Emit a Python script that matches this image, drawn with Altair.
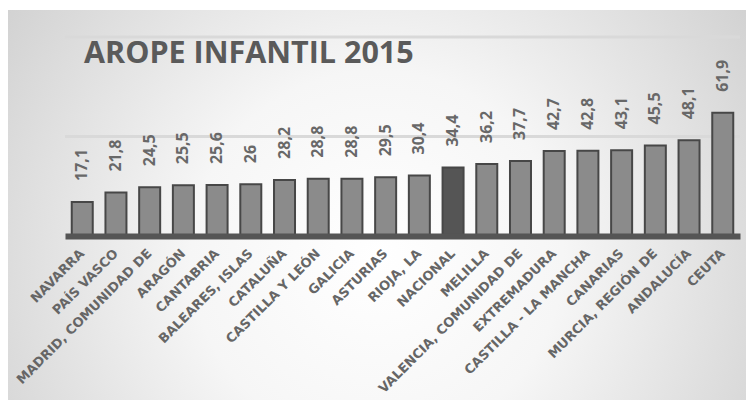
import altair as alt
import pandas as pd

regions = ["NAVARRA", "PAÍS VASCO", "MADRID, COMUNIDAD DE", "ARAGÓN", "CANTABRIA",
           "BALEARES, ISLAS", "CATALUÑA", "CASTILLA Y LEÓN", "GALICIA", "ASTURIAS",
           "RIOJA, LA", "NACIONAL", "MELILLA", "VALENCIA, COMUNIDAD DE", "EXTREMADURA",
           "CASTILLA - LA MANCHA", "CANARIAS", "MURCIA, REGIÓN DE", "ANDALUCÍA", "CEUTA"]
values = [17.1, 21.8, 24.5, 25.5, 25.6, 26.0, 28.2, 28.8, 28.8, 29.5,
          30.4, 34.4, 36.2, 37.7, 42.7, 42.8, 43.1, 45.5, 48.1, 61.9]
value_labels = ["17,1", "21,8", "24,5", "25,5", "25,6", "26", "28,2", "28,8", "28,8", "29,5",
                "30,4", "34,4", "36,2", "37,7", "42,7", "42,8", "43,1", "45,5", "48,1", "61,9"]
grid_values = [50, 100]
highlight = "NACIONAL"
title_text = "AROPE INFANTIL 2015"

df = pd.DataFrame({"region": regions, "value": values, "label": value_labels})
df["grupo"] = ["nacional" if r == highlight else "region" for r in regions]

W, H = 675, 199
PAD_L, PAD_T = 57, 29
TOTAL_W, TOTAL_H = 738, 392

grad = alt.RadialGradient(
    gradient="radial",
    x1=0.5, y1=0.57, r1=0.0,
    x2=0.5, y2=0.57, r2=0.72,
    stops=[
        alt.GradientStop(color="#ffffff", offset=0.0),
        alt.GradientStop(color="#f6f6f6", offset=0.35),
        alt.GradientStop(color="#c6c6c6", offset=1.0),
    ],
)

bg = alt.Chart(pd.DataFrame({"k": [0]})).mark_rect(color=grad).encode(
    x=alt.value(-PAD_L), x2=alt.value(TOTAL_W - PAD_L),
    y=alt.value(-PAD_T + 2), y2=alt.value(TOTAL_H - PAD_T),
)

yscale = alt.Scale(domain=[0, 100], nice=False)

grid = alt.Chart(pd.DataFrame({"g": grid_values})).mark_rule(
    color="#d9d9d9", strokeWidth=3).encode(
    y=alt.Y("g:Q", scale=yscale, axis=None))

xenc = alt.X("region:N", sort=None,
             scale=alt.Scale(paddingInner=0.377, paddingOuter=0.2),
             axis=alt.Axis(title=None, labelAngle=-45, labelAlign="right",
                           labelBaseline="middle", labelPadding=15,
                           labelFont="DejaVu Sans", labelFontWeight="bold",
                           labelFontSize=13, labelColor="#666666",
                           labelLimit=400,
                           ticks=False, domainColor="#555555", domainWidth=6,
                           labelOverlap=False, grid=False, zindex=2))
yenc = alt.Y("value:Q", scale=yscale, axis=None)

bars = alt.Chart(df).mark_bar(stroke="#474747", strokeWidth=2).encode(
    x=xenc, y=yenc,
    color=alt.Color("grupo:N", legend=None,
                    scale=alt.Scale(domain=["region", "nacional"],
                                    range=["#8b8b8b", "#555555"])),
)

labels = alt.Chart(df).mark_text(angle=270, align="left", baseline="middle", dx=21,
                                 font="Open Sans", fontWeight="bold", fontSize=16,
                                 color="#686868").encode(
    x=alt.X("region:N", sort=None), y=alt.Y("value:Q"), text="label:N")

title = alt.Chart(pd.DataFrame({"t": [title_text]})).mark_text(
    align="left", baseline="alphabetic", font="Open Sans", fontWeight="bold",
    fontSize=30.5, color="#5a5a5a").encode(
    x=alt.value(19), y=alt.value(26), text="t:N")

chart = alt.layer(bg, grid, bars, labels, title).properties(
    width=W, height=H,
    autosize=alt.AutoSizeParams(type="none"),
    padding={"left": PAD_L, "top": PAD_T, "right": TOTAL_W - PAD_L - W,
             "bottom": TOTAL_H - PAD_T - H},
    background="#ffffff",
).configure_view(stroke=None)

chart.save("out.html", embed_options={"renderer": "svg", "actions": False})
